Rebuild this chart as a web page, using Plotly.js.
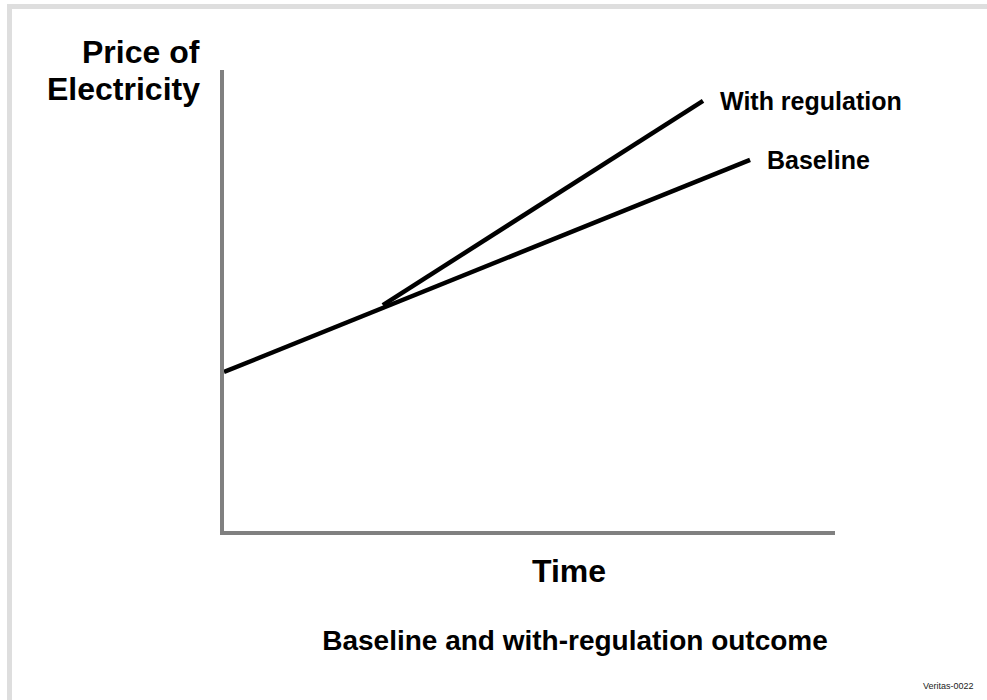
<!DOCTYPE html>
<html>
<head>
<meta charset="utf-8">
<script src="https://cdn.plot.ly/plotly-3.0.1.min.js"></script>
<style>
  html, body { margin: 0; padding: 0; background: #ffffff; }
  #wrap { position: relative; width: 987px; height: 700px; overflow: hidden; }
  #chart { position: absolute; left: 0; top: 0; width: 987px; height: 700px; }
  #frame { position: absolute; left: 7px; top: 4px; right: 0; bottom: 0;
           border-top: 5px solid #dedede; border-left: 5px solid #dedede;
           pointer-events: none; }
</style>
</head>
<body>
<div id="wrap">
  <div id="chart"></div>
  <div id="frame"></div>
</div>
<script>
// ---- data ----
var seriesNames = ["Baseline", "With regulation"];
var baselineTime = [0, 8.61];
var baselinePrice = [3.45, 8.05];
var regulationTime = [2.6, 7.84];
var regulationPrice = [4.9, 9.33];

var yTitleLines = ["Price of", "Electricity"];
var xTitle = "Time";
var chartTitle = "Baseline and with-regulation outcome";
var footnote = "Veritas-0022";

var FONT = "'Liberation Sans', Arial, Helvetica, sans-serif";

var traces = [
  { x: baselineTime, y: baselinePrice, name: seriesNames[0], mode: "lines",
    line: { color: "#000000", width: 4.5 }, hoverinfo: "skip" },
  { x: regulationTime, y: regulationPrice, name: seriesNames[1], mode: "lines",
    line: { color: "#000000", width: 4.5 }, hoverinfo: "skip" }
];

var W = 987, H = 700;
var mL = 224, mR = 152, mT = 70, mB = 169;
var pw = W - mL - mR, ph = H - mT - mB;
function px2paperX(px) { return (px - mL) / pw; }
function px2paperY(py) { return (H - mB - py) / ph; }

var annotations = [
  { x: baselineTime[baselineTime.length - 1], y: baselinePrice[baselinePrice.length - 1],
    xref: "x", yref: "y", text: seriesNames[0], showarrow: false,
    xanchor: "left", yanchor: "middle", xshift: 15,
    font: { family: FONT, size: 25, color: "#000", weight: "bold" } },
  { x: regulationTime[regulationTime.length - 1], y: regulationPrice[regulationPrice.length - 1],
    xref: "x", yref: "y", text: seriesNames[1], showarrow: false,
    xanchor: "left", yanchor: "middle", xshift: 15,
    font: { family: FONT, size: 25, color: "#000", weight: "bold" } },
  { x: px2paperX(202), y: px2paperY(52), xref: "paper", yref: "paper",
    text: yTitleLines[0], showarrow: false, xanchor: "right", yanchor: "middle",
    font: { family: FONT, size: 32, color: "#000", weight: "bold" } },
  { x: px2paperX(202), y: px2paperY(89), xref: "paper", yref: "paper",
    text: yTitleLines[1], showarrow: false, xanchor: "right", yanchor: "middle",
    font: { family: FONT, size: 32, color: "#000", weight: "bold" } },
  { x: px2paperX(569), y: px2paperY(571), xref: "paper", yref: "paper",
    text: xTitle, showarrow: false, xanchor: "center", yanchor: "middle",
    font: { family: FONT, size: 32, color: "#000", weight: "bold" } },
  { x: px2paperX(976), y: px2paperY(686), xref: "paper", yref: "paper",
    text: footnote, showarrow: false, xanchor: "right", yanchor: "middle",
    font: { family: FONT, size: 9, color: "#222" } }
];

var axisCommon = {
  showgrid: false, zeroline: false, showticklabels: false, ticks: "",
  showline: true, linecolor: "#808080", linewidth: 4, fixedrange: true
};

var layout = {
  width: W, height: H,
  margin: { l: mL, r: mR, t: mT, b: mB, pad: 0 },
  paper_bgcolor: "#ffffff", plot_bgcolor: "#ffffff",
  showlegend: false,
  hovermode: false,
  title: { text: chartTitle, x: 575 / W, xanchor: "center", xref: "container",
           y: 1 - 640 / H, yanchor: "middle", yref: "container",
           font: { family: FONT, size: 28, color: "#000", weight: "bold" } },
  xaxis: Object.assign({ range: [0, 10] }, axisCommon),
  yaxis: Object.assign({ range: [0, 10] }, axisCommon),
  annotations: annotations
};

Plotly.newPlot("chart", traces, layout, { displayModeBar: false, staticPlot: true });
</script>
</body>
</html>
